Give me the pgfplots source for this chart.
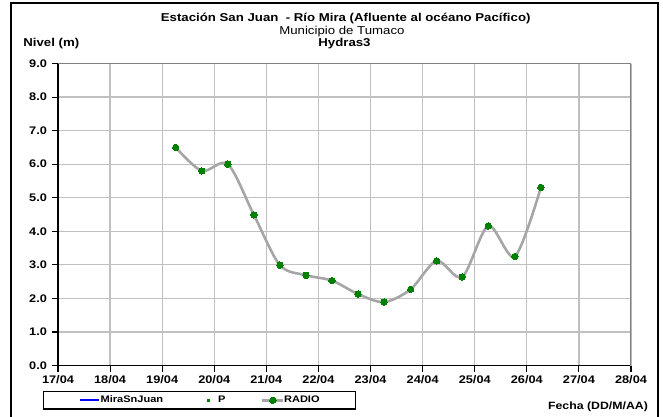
\documentclass[border=0pt]{standalone}
\usepackage{pgfplots}
\pgfplotsset{compat=1.18}
\usepackage{fontspec}
\setmainfont[FakeStretch=1.16]{Liberation Sans}
\definecolor{gridgray}{HTML}{C0C0C0}
\definecolor{edgegray}{HTML}{808080}
\definecolor{linegray}{HTML}{A6A6A6}
\definecolor{ptgreen}{HTML}{008000}
\pgfplotsset{
    mirlegend/.style={legend image code/.code={\draw[##1] (0pt,0pt) -- (19pt,0pt);}},
    plegend/.style={legend image code/.code={\path[draw=none, fill=none] (0pt,0pt) -- (20pt,0pt);
        \node[draw=none, fill=ptgreen, inner sep=0pt, minimum size=3pt] at (8.5pt,0pt) {};}},
    radlegend/.style={legend image code/.code={\draw[mark repeat=2, mark phase=2, ##1] plot coordinates {(0pt,0pt) (11pt,0pt) (21pt,0pt)};}},
}
\begin{document}
\begin{tikzpicture}
\path[use as bounding box] (-58pt,-50.5pt) rectangle (605pt,365.5pt);
\draw[black, line width=1.4pt] (-47pt,-54pt) rectangle (600pt,362.5pt);
\begin{axis}[
    scale only axis,
    width=573pt, height=302pt,
    xmin=0, xmax=11, ymin=0, ymax=9,
    axis lines*=left,
    axis line style={black, line width=1.1pt},
    xtick={0,...,11},
    xticklabels={17/04,18/04,19/04,20/04,21/04,22/04,23/04,24/04,25/04,26/04,27/04,28/04},
    ytick={0,...,9},
    yticklabel style={xshift=-1.5pt, /pgf/number format/.cd, fixed, fixed zerofill, precision=1},
    /pgf/number format/assume math mode=true,
    tick label style={font=\fontsize{11}{12}\selectfont\bfseries},
    tick align=outside,
    tick style={black, line width=1.1pt},
    major tick length=6pt,
    grid=major,
    major grid style={gridgray, line width=1.3pt},
    legend columns=3,
    legend style={at={(-0.0267,-0.0844)}, anchor=north west, draw=black, line width=1.2pt,
        font=\fontsize{9.5}{10}\selectfont\bfseries, inner xsep=36pt, inner ysep=3.5pt,
        nodes={inner xsep=0pt, inner ysep=1pt},
        /tikz/every even column/.append style={column sep=35pt}},
    legend cell align=left,
]
\addlegendimage{blue, line width=2.4pt, mirlegend}
\addlegendentry{MiraSnJuan}
\addlegendimage{plegend}
\addlegendentry{P}
\addplot[linegray, line width=2.6pt, smooth, tension=0.5,
    mark=*, mark size=3.2pt, mark options={ptgreen, fill=ptgreen, line width=0pt}, radlegend]
coordinates {
    (2.26, 6.50)
    (2.76, 5.80)
    (3.26, 6.00)
    (3.76, 4.49)
    (4.26, 2.99)
    (4.76, 2.69)
    (5.26, 2.53)
    (5.76, 2.13)
    (6.26, 1.89)
    (6.77, 2.27)
    (7.27, 3.12)
    (7.76, 2.64)
    (8.26, 4.16)
    (8.77, 3.25)
    (9.27, 5.31)
};
\addlegendentry{RADIO}
\draw[edgegray, line width=1.3pt] (rel axis cs:0,1) -- (rel axis cs:1,1) -- (rel axis cs:1,0);
\end{axis}
\node[anchor=base, font=\fontsize{11.4}{12}\selectfont\bfseries] at (287.7pt,343.8pt) {Estación San Juan \ - Río Mira (Afluente al océano Pacífico)};
\node[anchor=base, font=\fontsize{11.4}{12}\selectfont] at (283.9pt,330.5pt) {Municipio de Tumaco};
\node[anchor=base, font=\fontsize{11.4}{12}\selectfont\bfseries] at (286.5pt,319.5pt) {Hydras3};
\node[anchor=base, font=\fontsize{11.4}{12}\selectfont\bfseries] at (-6.7pt,319.5pt) {Nivel (m)};
\node[anchor=base, font=\fontsize{10.6}{12}\selectfont\bfseries] at (540pt,-43.5pt) {Fecha (DD/M/AA)};
\end{tikzpicture}
\end{document}
